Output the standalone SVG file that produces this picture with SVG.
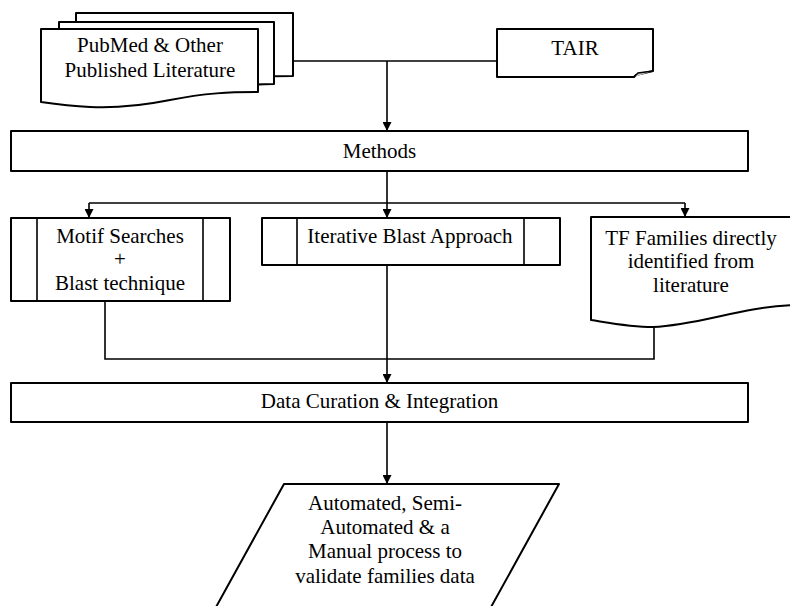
<svg xmlns="http://www.w3.org/2000/svg" width="790" height="606" viewBox="0 0 790 606">
<style>
.box{fill:#fff;stroke:#000;stroke-width:2;stroke-linejoin:round}
.ln{fill:none;stroke:#000;stroke-width:1.6}
.t{font-family:"Liberation Serif","DejaVu Serif",serif;font-size:21px;fill:#000;text-anchor:middle}
</style>
<defs>
<marker id="arr" viewBox="0 0 10 10" refX="10" refY="5" markerWidth="9" markerHeight="9" markerUnits="userSpaceOnUse" orient="auto">
<path d="M0,0 L10,5 L0,10 Z" fill="#000"/>
</marker>
</defs>
<rect width="790" height="606" fill="#fff"/>
<g id="connectors">
<path class="ln" d="M293,61 H497"/>
<path class="ln" d="M387,61 V131" marker-end="url(#arr)"/>
<path class="ln" d="M387,171 V203 M89,203 H685"/>
<path class="ln" d="M89,203 V218" marker-end="url(#arr)"/>
<path class="ln" d="M387,203 V218" marker-end="url(#arr)"/>
<path class="ln" d="M685,203 V217" marker-end="url(#arr)"/>
<path class="ln" d="M105,297 V359 H654 V327"/>
<path class="ln" d="M387,265 V383" marker-end="url(#arr)"/>
<path class="ln" d="M387,422 V484" marker-end="url(#arr)"/>
</g>
<g id="pubmed">
<path class="box" d="M76,13 H293 V76 C260,76 240,78 200,85 L76,85 Z"/>
<path class="box" d="M59,22 H274 V84 C250,84 230,86 200,91 L59,91 Z"/>
<path class="box" d="M41,29 H258 V92 C230,92 205,93 170,100 C135,107 110,108 90,107 C70,106 55,104 41,102 Z"/>
<text class="t" x="150" y="52">PubMed &amp; Other</text>
<text class="t" x="150" y="77">Published Literature</text>
</g>
<g id="tair">
<path class="box" d="M497,29 H653 V71 L636,75 L634,77 H497 Z"/>
<path d="M634,77 L638,73 L653,71" fill="#ccc" stroke="#000" stroke-width="1.5"/>
<text class="t" x="575" y="55">TAIR</text>
</g>
<g id="methods">
<rect class="box" x="11" y="131" width="737" height="40"/>
<text class="t" x="379.5" y="158">Methods</text>
</g>
<g id="motif">
<rect class="box" x="11" y="218" width="219" height="83"/>
<path class="ln" d="M37,218 V301 M203,218 V301"/>
<text class="t" x="120" y="243">Motif Searches</text>
<text class="t" x="120" y="266">+</text>
<text class="t" x="120" y="290">Blast technique</text>
</g>
<g id="iterative">
<rect class="box" x="262" y="218" width="298" height="47"/>
<path class="ln" d="M297,218 V265 M524,218 V265"/>
<text class="t" x="410" y="243">Iterative Blast Approach</text>
</g>
<g id="tffamilies">
<path class="box" d="M591,217 H795 V305 C740,307 700,325 653,327 C630,327 610,323 591,320 Z"/>
<text class="t" x="691" y="245">TF Families directly</text>
<text class="t" x="691" y="268">identified from</text>
<text class="t" x="691" y="292">literature</text>
</g>
<g id="curation">
<rect class="box" x="11" y="383" width="737" height="39"/>
<text class="t" x="379.5" y="408">Data Curation &amp; Integration</text>
</g>
<g id="validate">
<path class="box" d="M284,484 H559 L480,627 H205 Z"/>
<text class="t" x="385" y="510">Automated, Semi-</text>
<text class="t" x="385" y="534">Automated &amp; a</text>
<text class="t" x="385" y="558">Manual process to</text>
<text class="t" x="385" y="583">validate families data</text>
</g>
</svg>
